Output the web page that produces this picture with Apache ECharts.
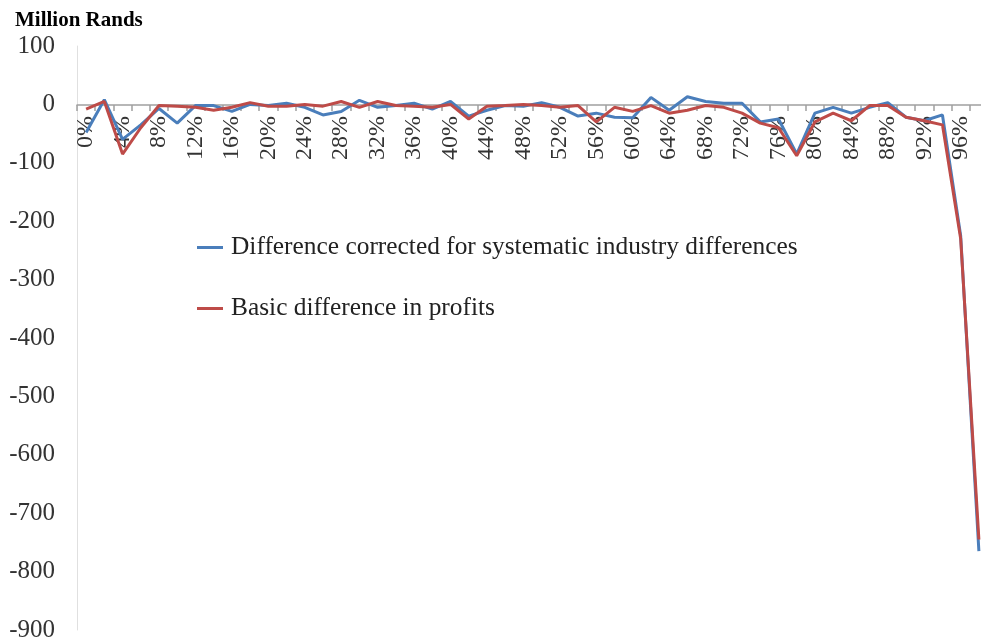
<!DOCTYPE html>
<html>
<head>
<meta charset="utf-8">
<script src="https://cdn.jsdelivr.net/npm/echarts@6/dist/echarts.min.js"></script>
<style>html,body{margin:0;padding:0;background:#fff}#c{width:981px;height:644px}</style>
</head>
<body>
<div id="c"></div>
<script>
var categories = [];
for (var p = 0; p <= 98; p += 2) categories.push(p + '%');

var corrected = [-48, 8, -60, -35, -7, -32, -2, -2, -12, 0,
  -2, 2, -5, -18, -12, 7, -5, -2, 2, -8,
  5, -20, -10, -2, -3, 3, -5, -20, -15, -22,
  -23, 12, -10, 13, 5, 2, 2, -30, -25, -85,
  -15, -5, -15, -5, 3, -22, -28, -18, -225, -765];

var basic = [-8, 5, -85, -40, -2, -3, -5, -10, -5, 3,
  -3, -3, 0, -3, 5, -5, 5, -2, -3, -5,
  0, -25, -3, -2, 0, -2, -5, -2, -30, -5,
  -12, -2, -15, -10, -2, -5, -15, -32, -40, -88,
  -30, -15, -28, -2, -2, -22, -28, -35, -230, -745];

var seriesNames = ['Difference corrected for systematic industry differences', 'Basic difference in profits'];
var yTitle = 'Million Rands';

var font = "'Liberation Serif', 'DejaVu Serif', serif";
var chart = echarts.init(document.getElementById('c'));
chart.setOption({
  animation: false,
  backgroundColor: '#fff',
  title: {
    text: yTitle, left: 10, top: 5,
    textStyle: {fontFamily: font, fontSize: 21, fontWeight: 'bold', color: '#000'}
  },
  legend: {
    orient: 'vertical', left: 197, top: 235,
    itemWidth: 26, itemHeight: 3, itemGap: 36, padding: 0,
    icon: 'rect',
    textStyle: {fontFamily: font, fontSize: 25.4, color: '#222', padding: [0, 0, 0, 3]},
    data: seriesNames
  },
  grid: {left: 77, width: 911, top: 46, height: 584, outerBoundsMode: 'none', containLabel: false},
  xAxis: {
    type: 'category', data: categories, boundaryGap: true,
    offset: -525,
    axisLine: {onZero: false, lineStyle: {color: '#a0a0a0', width: 1.5}},
    axisTick: {show: true, interval: 0, length: 6, lineStyle: {color: '#a0a0a0', width: 1.5}},
    axisLabel: {interval: 1, rotate: 90, margin: 11, fontFamily: font, fontSize: 24, color: '#333'}
  },
  yAxis: {
    type: 'value', min: -900, max: 100, interval: 100,
    axisLine: {show: true, lineStyle: {color: '#e0e0e0'}},
    axisTick: {show: false},
    splitLine: {show: false},
    axisLabel: {margin: 22, fontFamily: font, fontSize: 25, color: '#333'}
  },
  series: [
    {name: seriesNames[0], type: 'line', data: corrected, symbol: 'none',
      lineStyle: {color: '#4a7ebb', width: 3}, itemStyle: {color: '#4a7ebb'}},
    {name: seriesNames[1], type: 'line', data: basic, symbol: 'none',
      lineStyle: {color: '#be4b48', width: 3}, itemStyle: {color: '#be4b48'}}
  ]
});
</script>
</body>
</html>
